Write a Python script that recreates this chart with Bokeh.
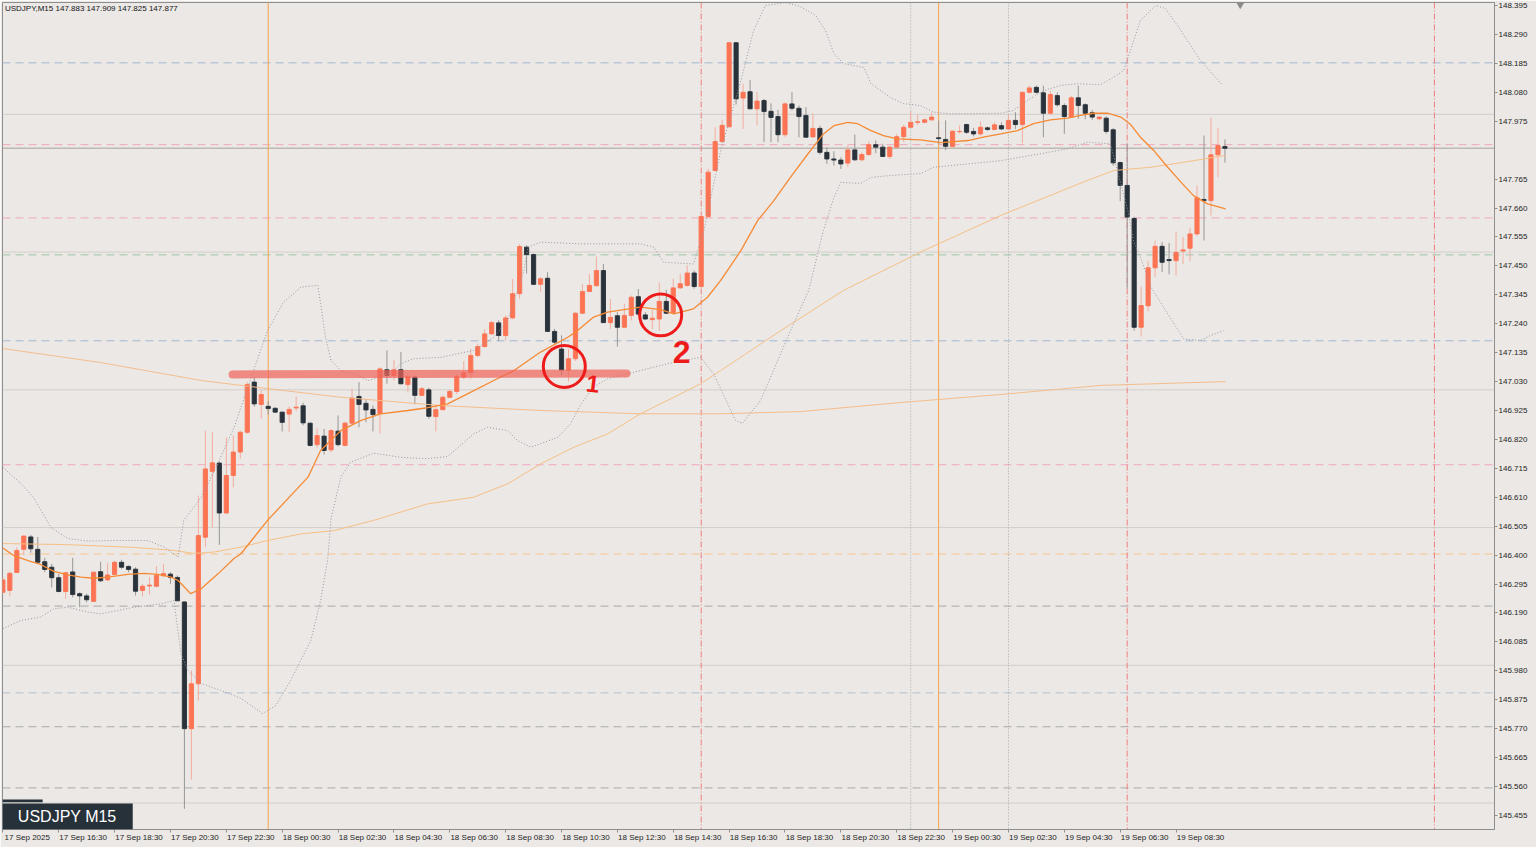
from bokeh.plotting import figure
from bokeh.models import (Range1d, FixedTicker, PrintfTickFormatter, Span, Label,
                          BoxAnnotation, ColumnDataSource)
from bokeh.core.properties import value
from bokeh.embed import file_html
from bokeh.resources import INLINE

# ---------------- data (USDJPY M15, bar 0 = 17 Sep 2025 14:30) ----------------
opens = [146.265,146.272,146.337,146.421,146.466,146.421,146.376,146.356,146.318,146.268,
         146.339,146.260,146.252,146.232,146.340,146.310,146.330,146.374,146.359,146.349,
         146.272,146.288,146.287,146.325,146.331,146.319,146.230,145.770,145.933,146.465,
         146.704,146.734,146.553,146.689,146.774,146.846,147.028,146.947,146.940,146.933,
         146.919,146.912,146.934,146.942,146.879,146.801,146.832,146.782,146.850,146.798,
         146.879,146.976,146.951,146.929,146.914,147.073,147.052,147.073,147.019,147.046,
         146.980,147.000,146.903,146.928,146.973,146.994,147.046,147.062,147.125,147.157,
         147.203,147.243,147.197,147.261,147.349,147.518,147.491,147.383,147.405,147.212,
         147.148,147.071,147.113,147.278,147.357,147.378,147.433,147.244,147.269,147.227,
         147.270,147.338,147.272,147.255,147.257,147.321,147.280,147.370,147.379,147.424,
         147.375,147.629,147.796,147.901,147.955,148.260,148.059,148.082,148.020,148.050,
         148.011,147.992,147.926,148.038,148.022,147.996,147.918,147.949,147.862,147.838,
         147.834,147.823,147.871,147.835,147.854,147.890,147.881,147.847,147.881,147.919,
         147.953,147.971,147.971,147.980,147.915,147.909,147.883,147.937,147.963,147.938,
         147.929,147.951,147.945,147.959,147.947,147.978,147.963,148.080,148.098,148.078,
         148.004,148.068,148.032,147.990,148.060,148.035,148.006,147.984,147.986,147.944,
         147.825,147.742,147.622,147.227,147.305,147.443,147.521,147.473,147.469,147.504,
         147.514,147.566,147.691,147.687,147.853,147.883]
highs = [146.320,146.340,146.429,146.472,146.474,146.466,146.390,146.368,146.332,146.338,
         146.390,146.265,146.260,146.340,146.376,146.372,146.380,146.383,146.362,146.356,
         146.296,146.320,146.360,146.368,146.338,146.326,146.232,145.981,146.616,146.852,
         146.846,146.740,146.828,146.834,146.852,147.028,147.046,147.000,146.958,146.937,
         146.921,146.940,146.975,146.953,146.880,146.861,146.858,146.858,146.907,146.885,
         147.004,147.028,146.967,146.943,147.082,147.143,147.109,147.137,147.058,147.052,
         147.010,147.008,146.943,146.980,147.002,147.058,147.104,147.149,147.167,147.221,
         147.250,147.253,147.270,147.403,147.530,147.524,147.495,147.409,147.427,147.221,
         147.198,147.149,147.282,147.385,147.421,147.484,147.457,147.330,147.282,147.312,
         147.342,147.366,147.282,147.290,147.390,147.363,147.403,147.421,147.452,147.433,
         147.632,147.802,147.953,147.980,148.262,148.262,148.111,148.125,148.081,148.056,
         148.040,148.016,148.044,148.080,148.032,148.026,148.004,147.959,147.881,147.866,
         147.844,147.887,147.927,147.862,147.902,147.905,147.893,147.885,147.929,147.962,
         148.011,148.000,147.984,148.008,147.977,147.978,147.941,147.960,147.966,147.951,
         147.975,147.956,147.971,147.971,148.000,148.008,148.082,148.104,148.105,148.104,
         148.086,148.080,148.040,148.067,148.104,148.040,148.015,147.993,147.993,147.950,
         147.828,147.893,147.628,147.375,147.469,147.542,147.536,147.533,147.575,147.554,
         147.588,147.742,147.923,147.987,147.951,147.909]
lows = [146.258,146.250,146.335,146.400,146.409,146.368,146.338,146.283,146.265,146.241,
        146.247,146.211,146.229,146.230,146.302,146.308,146.328,146.350,146.338,146.253,
        146.250,146.257,146.283,146.320,146.296,146.234,145.479,145.585,145.872,146.429,
        146.501,146.437,146.550,146.646,146.750,146.840,146.939,146.895,146.910,146.916,
        146.849,146.846,146.922,146.871,146.795,146.790,146.765,146.774,146.795,146.795,
        146.874,146.864,146.882,146.849,146.842,147.022,147.034,147.020,146.990,146.947,
        146.978,146.895,146.849,146.925,146.970,146.985,147.040,147.040,147.118,147.154,
        147.199,147.177,147.179,147.257,147.330,147.422,147.380,147.355,147.210,147.167,
        147.052,147.030,147.105,147.276,147.355,147.375,147.244,147.221,147.157,147.227,
        147.252,147.269,147.254,147.220,147.214,147.276,147.276,147.367,147.375,147.367,
        147.368,147.627,147.795,147.898,147.952,148.036,147.947,148.020,147.960,147.899,
        147.899,147.899,147.917,148.014,147.917,147.917,147.917,147.854,147.820,147.814,
        147.802,147.808,147.831,147.830,147.850,147.859,147.847,147.838,147.880,147.899,
        147.951,147.960,147.968,147.977,147.891,147.870,147.881,147.930,147.929,147.920,
        147.923,147.940,147.942,147.943,147.943,147.947,147.895,148.075,148.075,147.917,
        147.999,148.028,147.929,147.987,147.984,147.982,147.980,147.978,147.929,147.814,
        147.685,147.367,147.215,147.194,147.285,147.409,147.427,147.419,147.415,147.457,
        147.467,147.559,147.542,147.633,147.772,147.825]
closes = [146.310,146.334,146.417,146.469,146.423,146.374,146.348,146.318,146.268,146.336,
          146.257,146.252,146.238,146.338,146.307,146.328,146.374,146.356,146.348,146.269,
          146.287,146.291,146.326,146.333,146.319,146.234,145.770,145.933,146.471,146.713,
          146.735,146.553,146.689,146.774,146.846,147.019,146.949,146.983,146.932,146.919,
          146.882,146.929,146.937,146.880,146.798,146.834,146.780,146.852,146.801,146.879,
          146.970,146.947,146.927,146.910,147.076,147.052,147.073,147.022,147.048,146.980,
          147.004,146.904,146.928,146.973,146.994,147.049,147.062,147.125,147.157,147.203,
          147.244,147.197,147.261,147.349,147.520,147.491,147.383,147.403,147.212,147.173,
          147.072,147.113,147.278,147.357,147.379,147.433,147.244,147.263,147.227,147.270,
          147.336,147.275,147.257,147.260,147.321,147.278,147.370,147.385,147.424,147.375,
          147.629,147.790,147.901,147.960,148.260,148.056,148.080,148.020,148.048,148.010,
          147.989,147.926,148.038,148.022,147.992,147.917,147.949,147.862,147.838,147.834,
          147.820,147.871,147.835,147.854,147.890,147.881,147.847,147.881,147.919,147.953,
          147.971,147.973,147.980,147.990,147.912,147.884,147.939,147.938,147.935,147.929,
          147.953,147.945,147.962,147.947,147.978,147.963,148.080,148.096,148.080,148.004,
          148.072,148.035,147.992,148.060,148.032,148.004,147.990,147.990,147.938,147.824,
          147.742,147.627,147.227,147.306,147.443,147.521,147.463,147.469,147.499,147.508,
          147.566,147.697,147.687,147.853,147.887,147.877]

# indicator lines: (bar position, price)
ma20_bar = [0,1.6,3.6,5.4,7.3,9.3,11.2,13.0,15.0,17.9,20.2,22.2,24.1,25.1,26.9,28.4,30.8,33.1,34.1,37.9,
            43.7,45.5,48.4,51.3,54.1,58.0,60.8,63.7,66.6,70.3,73.2,77.0,80.9,82.3,84.6,86.6,91.3,94.2,96.1,98.9,
            100.9,102.8,105.7,108.1,110.4,112.8,115.3,117.5,119.0,121.0,122.4,124.3,126.1,128.1,131.4,134.3,138.2,140.4,142.9,145.3,
            147.6,150.0,152.5,154.3,156.2,158.2,160.1,161.5,162.9,164.8,166.8,168.7,170.5,172.5,175.1]
ma20_val = [146.426,146.398,146.380,146.366,146.341,146.328,146.320,146.316,146.320,146.330,146.334,146.330,146.320,146.308,146.260,146.278,146.332,146.388,146.405,146.526,
            146.683,146.780,146.852,146.889,146.913,146.925,146.935,146.949,146.986,147.034,147.070,147.137,147.191,147.215,147.264,147.282,147.300,147.291,147.276,147.294,
            147.336,147.397,147.506,147.615,147.687,147.772,147.857,147.929,147.959,147.971,147.966,147.941,147.923,147.911,147.907,147.897,147.905,147.917,147.929,147.941,
            147.966,147.980,147.986,147.996,148.004,148.004,147.990,147.963,147.917,147.869,147.808,147.754,147.705,147.675,147.657]
bb_up_bar = [0,2.6,4.4,6.9,9.3,12.2,15.5,20.8,23.1,25.1,25.9,28.4,30.8,33.1,35.5,37.9,40.2,42.7,45.1,45.5,
             46.2,47.0,48.4,50.8,52.3,54.1,56.0,57.0,58.8,62.7,67.4,70.3,72.3,73.7,74.6,75.2,77.0,82.8,86.6,91.3,
             93.2,94.6,98.9,100.4,102.8,105.7,107.5,109.2,112.1,114.2,116.4,117.8,119.0,120.4,123.3,124.3,127.1,129.0,131.4,133.3,
             135.7,142.9,144.7,146.7,149.0,151.5,153.9,157.2,159.1,160.5,162.9,165.1,166.5,168.7,171.5,174.7]
bb_up_val = [146.719,146.660,146.609,146.500,146.460,146.451,146.453,146.453,146.429,146.393,146.526,146.609,146.733,146.863,147.041,147.215,147.318,147.373,147.379,147.313,
             147.191,147.106,147.070,147.052,147.034,147.046,147.070,147.095,147.113,147.118,147.143,147.191,147.252,147.361,147.433,147.518,147.536,147.530,147.530,147.530,
             147.518,147.463,147.457,147.578,147.869,148.123,148.304,148.395,148.406,148.391,148.359,148.304,148.221,148.184,148.170,148.112,148.061,148.039,148.032,148.008,
             148.002,148.004,148.014,148.050,148.086,148.105,148.111,148.108,148.135,148.159,148.341,148.395,148.384,148.304,148.195,148.105]
bb_lo_bar = [0,2.6,5.4,7.3,9.3,12.2,14.0,16.5,18.8,20.8,22.6,24.5,25.5,26.5,28.4,31.2,34.1,37.2,39.1,41.2,
             44.1,45.5,46.5,47.0,48.4,49.8,53.1,57.0,60.8,63.7,67.4,69.4,72.3,73.7,75.6,77.0,79.5,81.3,82.8,84.6,
             86.6,91.3,95.2,99.9,101.8,102.8,104.9,105.9,108.5,112.8,115.4,117.5,119.0,120.0,122.8,124.3,127.1,131.4,133.3,138.2,
             142.9,148.6,152.5,155.3,158.6,161.1,161.9,162.9,164.4,166.8,169.1,171.5,172.9,174.8]
bb_lo_val = [146.133,146.163,146.175,146.205,146.211,146.193,146.187,146.199,146.211,146.217,146.223,146.235,146.043,145.981,145.934,145.909,145.880,145.825,145.854,145.945,
             146.090,146.235,146.381,146.533,146.683,146.737,146.770,146.755,146.750,146.758,146.840,146.864,146.852,146.816,146.792,146.804,146.828,146.877,146.949,147.010,
             147.040,147.070,147.095,147.118,147.058,147.004,146.889,146.878,146.961,147.215,147.361,147.578,147.698,147.753,147.749,147.771,147.778,147.785,147.808,147.820,
             147.832,147.857,147.875,147.899,147.893,147.651,147.542,147.481,147.373,147.276,147.185,147.179,147.197,147.215]
ma100_bar = [0,9.3,18.8,24.5,27.3,30.2,34.1,37.9,42.7,47.4,53.1,60.8,67.4,72.3,77.0,81.8,86.6,91.3,96.1,99.9,
             102.8,111.4,120.4,131.4,142.9,155.3,159.1,164.4,169.1,175.1]
ma100_val = [146.442,146.438,146.428,146.417,146.406,146.411,146.429,146.453,146.477,146.489,146.526,146.586,146.610,146.659,146.731,146.792,146.840,146.913,146.973,147.022,
             147.070,147.215,147.361,147.500,147.633,147.760,147.796,147.808,147.826,147.851]
ma200_bar = [0,14.0,28.4,34.1,48.4,62.7,77.0,91.3,102.8,114.2,128.6,142.9,157.2,175.1]
ma200_val = [147.150,147.099,147.034,147.016,146.973,146.943,146.925,146.913,146.913,146.921,146.954,146.983,147.016,147.030]

# horizontal levels
round_levels = [148.0, 147.5, 147.0, 146.5, 146.0, 145.5]
dash_levels = [148.187, 147.890, 147.624, 147.490, 147.178, 146.728, 146.404, 146.215, 145.900, 145.777, 145.555]
last_price = 147.877
header_text = "USDJPY,M15  147.883 147.909 147.825 147.877"
chart_name = "USDJPY M15"

# vertical markers (bar positions)
day_separators = [38, 134]
event_lines = [100, 161, 205]
dotted_vlines = [130, 144]

# hand-drawn annotations
stroke_bars = [32.9, 89.3]
stroke_prices = [147.056, 147.059]
circle_bars = [80.4, 94.2]
circle_prices = [147.085, 147.272]
note_texts = ["1", "2"]
note_bars = [84.5, 97.2]
note_prices = [147.023, 147.137]
shift_bar = [177.2]
shift_price = [148.401]

# axes
y_ticks = [148.395, 148.290, 148.185, 148.080, 147.975, 147.765, 147.660, 147.555, 147.450,
           147.345, 147.240, 147.135, 147.030, 146.925, 146.820, 146.715, 146.610, 146.505,
           146.400, 146.295, 146.190, 146.085, 145.980, 145.875, 145.770, 145.665, 145.560, 145.455]
x_tick_bars = [0, 8, 16, 24, 32, 40, 48, 56, 64, 72, 80, 88, 96, 104, 112, 120, 128, 136, 144, 152, 160, 168]
x_tick_labels = ["17 Sep 2025", "17 Sep 16:30", "17 Sep 18:30", "17 Sep 20:30", "17 Sep 22:30",
                 "18 Sep 00:30", "18 Sep 02:30", "18 Sep 04:30", "18 Sep 06:30", "18 Sep 08:30",
                 "18 Sep 10:30", "18 Sep 12:30", "18 Sep 14:30", "18 Sep 16:30", "18 Sep 18:30",
                 "18 Sep 20:30", "18 Sep 22:30", "19 Sep 00:30", "19 Sep 02:30", "19 Sep 04:30",
                 "19 Sep 06:30", "19 Sep 08:30"]

# ---------------- styles ----------------
BG = "#ebe8e5"
UP = "#fc7454"
DOWN = "#29323a"
UP_WICK = "#f3ad9e"
DOWN_WICK = "#979797"
AXIS = "#8e8e8e"
FONT = "Liberation Sans"
dash_colors = ["#a2b8d0", "#f2a8ba", "#f2a8ba", "#9fc6a6", "#a3b8d2", "#f4a6bf",
               "#f6c38e", "#aaaaaa", "#b3c1d1", "#ababab", "#ababab"]
LABEL_SHIFT = 3.5

p = figure(width=1536, height=847,
           x_range=Range1d(-0.05, 213.6), y_range=Range1d(145.404, 148.406),
           output_backend="svg", toolbar_location=None, y_axis_location="right",
           min_border_left=2, min_border_top=2, min_border_right=42, min_border_bottom=18)
p.background_fill_color = BG
p.border_fill_color = BG
p.outline_line_color = AXIS
p.outline_line_width = 1
p.grid.visible = False

yax = p.yaxis[0]
yax.ticker = FixedTicker(ticks=y_ticks, minor_ticks=[])
yax.formatter = PrintfTickFormatter(format="%.3f")
yax.major_label_text_font = FONT
yax.major_label_text_font_size = "8px"
yax.major_label_text_color = "#1e1e1e"
yax.major_tick_out = 3
yax.major_tick_in = 0
yax.minor_tick_out = 0
yax.minor_tick_in = 0
yax.major_label_standoff = 1
yax.axis_label_standoff = 0
yax.axis_label_text_font_size = "0px"
yax.axis_line_color = AXIS
yax.major_tick_line_color = AXIS

xax = p.xaxis[0]
major = [b + LABEL_SHIFT for b in x_tick_bars]
xax.ticker = FixedTicker(ticks=major, minor_ticks=x_tick_bars)
xax.major_label_overrides = {m: t for m, t in zip(major, x_tick_labels)}
xax.major_label_text_font = FONT
xax.major_label_text_font_size = "8px"
xax.major_label_text_color = "#1e1e1e"
xax.major_tick_out = 0
xax.major_tick_in = 0
xax.minor_tick_out = 3
xax.minor_tick_in = 0
xax.minor_tick_line_color = AXIS
xax.major_label_standoff = 0
xax.axis_label_standoff = 0
xax.axis_label_text_font_size = "0px"
xax.axis_line_color = AXIS

# background level lines
for lv in round_levels:
    p.add_layout(Span(location=lv, dimension="width", line_color="#d3cfcb", line_width=1, level="underlay"))
for lv, col in zip(dash_levels, dash_colors):
    p.add_layout(Span(location=lv, dimension="width", line_color=col, line_width=1,
                      line_dash="8 5", level="underlay"))
p.add_layout(Span(location=last_price, dimension="width", line_color="#bdbab6", line_width=1.6, level="underlay"))
for b in day_separators:
    p.add_layout(Span(location=b, dimension="height", line_color="#f6a24a", line_width=1, level="underlay"))
for b in event_lines:
    p.add_layout(Span(location=b, dimension="height", line_color="#ef7d80", line_width=1,
                      line_dash="6 2 1 2", level="underlay"))
for b in dotted_vlines:
    p.add_layout(Span(location=b, dimension="height", line_color="#a6a6a6", line_width=1,
                      line_dash="1 2", level="underlay"))

# candles
n = len(opens)
is_up = [c >= o for o, c in zip(opens, closes)]
src = ColumnDataSource(dict(
    x=list(range(n)), h=highs, l=lows,
    top=[max(o, c) for o, c in zip(opens, closes)],
    bot=[min(o, c) for o, c in zip(opens, closes)],
    body=[UP if u else DOWN for u in is_up],
    wick=[UP_WICK if u else DOWN_WICK for u in is_up],
))
p.segment(x0="x", y0="l", x1="x", y1="h", line_color="wick", line_width=1, source=src)
p.vbar(x="x", width=0.6, top="top", bottom="bot", fill_color="body", line_color="body",
       line_width=0.9, source=src)

# indicators
p.line(ma200_bar, ma200_val, line_color="#f5bd8c", line_width=1)
p.line(ma100_bar, ma100_val, line_color="#f7bf87", line_width=1)
p.line(bb_up_bar, bb_up_val, line_color="#9896a6", line_width=1, line_dash="1 2")
p.line(bb_lo_bar, bb_lo_val, line_color="#9896a6", line_width=1, line_dash="1 2")
p.line(ma20_bar, ma20_val, line_color="#f68a34", line_width=1.3)

# hand drawn marks
p.line(stroke_bars, stroke_prices, line_color="#f0655c", line_alpha=0.72, line_width=8, line_cap="round")
p.scatter(circle_bars, circle_prices, marker="circle", size=42, fill_alpha=0,
          line_color="#ee1b1b", line_width=3)
p.text(x=note_bars[:1], y=note_prices[:1], text=note_texts[:1], text_color="#ee1b1b",
       text_font=value(FONT), text_font_size="24px", text_font_style="bold",
       text_align="center", text_baseline="middle", angle=-0.12)
p.text(x=note_bars[1:], y=note_prices[1:], text=note_texts[1:], text_color="#ee1b1b",
       text_font=value(FONT), text_font_size="32px", text_font_style="bold",
       text_align="center", text_baseline="middle")
p.scatter(shift_bar, shift_price, marker="inverted_triangle", size=8, color="#8c8c8c")

# texts / boxes
p.add_layout(Label(x=0.3, y=148.386, text=header_text, text_font=FONT, text_font_size="8px",
                   text_color="#151515", text_baseline="middle"))
p.add_layout(BoxAnnotation(left=-0.05, right=18.6, bottom=145.404, top=145.498,
                           fill_color="#27313a", fill_alpha=1, line_color=None))
p.add_layout(BoxAnnotation(left=-0.05, right=5.7, bottom=145.503, top=145.513,
                           fill_color="#27313a", fill_alpha=1, line_color=None))
p.add_layout(Label(x=2.15, y=145.451, text=chart_name, text_font=FONT, text_font_size="16px",
                   text_color="#ffffff", text_baseline="middle"))
p.add_layout(Label(x=213.85, y=last_price, text=f"{last_price:.3f}", text_font=FONT,
                   text_font_size="8px", text_color="#ffffff", text_baseline="middle",
                   background_fill_color="#000000", padding=1))

open("out.html", "w").write(file_html(p, INLINE))
